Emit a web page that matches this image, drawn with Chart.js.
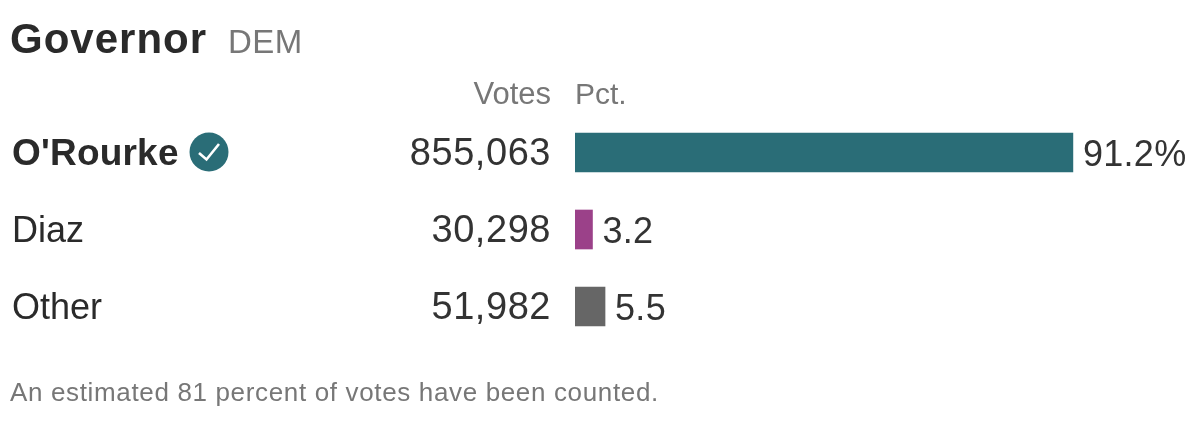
<!DOCTYPE html>
<html><head><meta charset="utf-8">
<script src="https://cdn.jsdelivr.net/npm/chart.js@4"></script>
<style>
html,body{margin:0;padding:0;background:#fff;overflow:hidden}
#w{position:absolute;left:0;top:0;width:1199px;height:423px}
</style></head><body>
<div id="w"><canvas id="c" width="1199" height="423"></canvas></div>
<script>
const candidates = ["O'Rourke", "Diaz", "Other"];
const votes = ["855,063", "30,298", "51,982"];
const pct = [91.2, 3.2, 5.5];
const pctLabels = ["91.2%", "3.2", "5.5"];
const colors = ["#2a6d77", "#9b4189", "#666666"];
const title = "Governor";
const party = "DEM";
const note = "An estimated 81 percent of votes have been counted.";
const FONT = '"Liberation Sans"';

const textPlugin = {
  id: 'texts',
  afterDraw(chart) {
    const {ctx, scales: {x, y}} = chart;
    ctx.save();
    ctx.textBaseline = 'alphabetic';
    const t = (s, px, py, font, col, al, sp) => {
      ctx.font = font; ctx.fillStyle = col; ctx.textAlign = al || 'left';
      ctx.letterSpacing = (sp || 0) + 'px';
      ctx.fillText(s, px, py);
      ctx.letterSpacing = '0px';
    };
    t(title, 10, 53, 'bold 42px ' + FONT, '#2a2a2a', 'left', 1);
    t(party, 228, 53, '33px ' + FONT, '#777', 'left', 0.5);
    t("Votes", 551, 104, '31px ' + FONT, '#777', 'right');
    t("Pct.", 575, 104, '30px ' + FONT, '#777');
    candidates.forEach((c, i) => {
      const cy = y.getPixelForValue(i);
      t(c, 12, cy + 12.5, (i === 0 ? 'bold 37px ' : '36px ') + FONT, '#2a2a2a', 'left', i === 0 ? 0.2 : 0);
      t(votes[i], 551, cy + 12.5, '38px ' + FONT, '#333', 'right', 0.55);
      t(pctLabels[i], x.getPixelForValue(pct[i]) + 10, cy + 13.5, '36px ' + FONT, '#333', 'left', 0.3);
    });
    const by = y.getPixelForValue(0) - 0.5;
    ctx.beginPath(); ctx.arc(209, by, 19.5, 0, Math.PI * 2); ctx.fillStyle = colors[0]; ctx.fill();
    ctx.beginPath(); ctx.moveTo(199, by + 1); ctx.lineTo(206.5, by + 7.5); ctx.lineTo(219, by - 8);
    ctx.strokeStyle = '#fff'; ctx.lineWidth = 2.6; ctx.stroke();
    t(note, 10, 401, '26px ' + FONT, '#777', 'left', 0.65);
    ctx.restore();
  }
};

new Chart(document.getElementById('c'), {
  type: 'bar',
  data: { labels: candidates, datasets: [{ data: pct, backgroundColor: colors, borderWidth: 0, barThickness: 39 }] },
  options: {
    indexAxis: 'y', responsive: false, animation: false,
    layout: { padding: { left: 575, right: 0, top: 114, bottom: 78 } },
    plugins: { legend: { display: false }, tooltip: { enabled: false } },
    scales: {
      x: { display: false, min: 0, max: 114.3 },
      y: { display: false }
    }
  },
  plugins: [textPlugin]
});
</script>
</body></html>
